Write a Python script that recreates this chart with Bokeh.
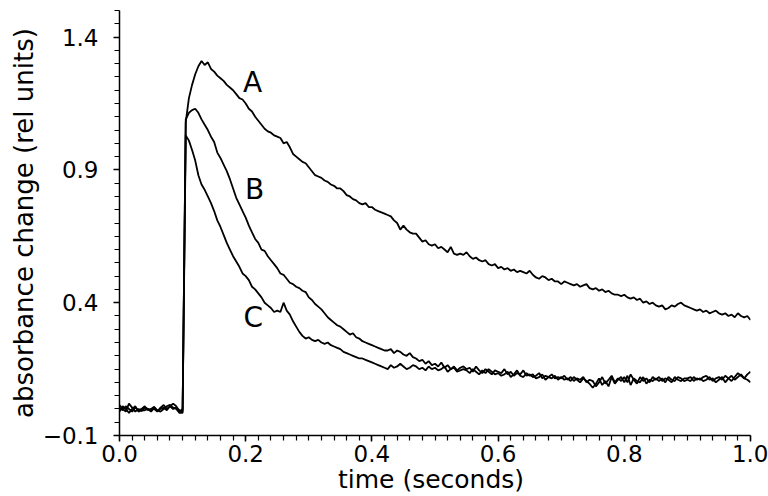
import numpy as np
from bokeh.plotting import figure
from bokeh.models import Range1d, FixedTicker, CustomJSTickFormatter, ColumnDataSource
from bokeh.core.properties import value
from bokeh.embed import file_html
from bokeh.resources import INLINE

# time grid (seconds), one sample every 5 ms
time_s = np.round(np.arange(0, 201) * 0.005, 3)

# absorbance change (rel units), rows of 10 samples = 50 ms each
trace_A = [
    0.005, -0.005, 0.01, 0.0, -0.01, 0.005, -0.005, 0.0, 0.01, -0.005,
    0.0, 0.008, -0.008, 0.0, 0.005, -0.005, 0.01, 0.0, 0.005, -0.005,
    -0.01, 1.08, 1.17, 1.22, 1.26, 1.29, 1.31, 1.295, 1.305, 1.28,
    1.27, 1.255, 1.245, 1.235, 1.22, 1.21, 1.2, 1.185, 1.17, 1.165,
    1.15, 1.13, 1.12, 1.10, 1.085, 1.07, 1.055, 1.045, 1.04, 1.03,
    1.025, 1.02, 1.00, 1.005, 0.985, 0.96, 0.95, 0.94, 0.93, 0.925,
    0.91, 0.895, 0.88, 0.875, 0.87, 0.86, 0.855, 0.845, 0.84, 0.83,
    0.83, 0.82, 0.805, 0.80, 0.79, 0.785, 0.775, 0.77, 0.775, 0.76,
    0.76, 0.75, 0.745, 0.74, 0.735, 0.73, 0.725, 0.71, 0.70, 0.675,
    0.69, 0.675, 0.665, 0.66, 0.66, 0.645, 0.63, 0.635, 0.62, 0.615,
    0.62, 0.605, 0.61, 0.60, 0.59, 0.61, 0.585, 0.58, 0.585, 0.58,
    0.59, 0.575, 0.565, 0.57, 0.56, 0.555, 0.56, 0.545, 0.54, 0.545,
    0.53, 0.535, 0.525, 0.53, 0.52, 0.525, 0.515, 0.52, 0.515, 0.51,
    0.52, 0.505, 0.495, 0.49, 0.50, 0.495, 0.485, 0.49, 0.48, 0.48,
    0.47, 0.48, 0.475, 0.47, 0.465, 0.47, 0.46, 0.465, 0.47, 0.455,
    0.45, 0.455, 0.445, 0.45, 0.44, 0.445, 0.435, 0.43, 0.43, 0.425,
    0.43, 0.42, 0.415, 0.42, 0.41, 0.415, 0.40, 0.405, 0.395, 0.40,
    0.39, 0.385, 0.39, 0.375, 0.38, 0.39, 0.385, 0.395, 0.40, 0.39,
    0.385, 0.38, 0.375, 0.37, 0.375, 0.365, 0.37, 0.36, 0.365, 0.37,
    0.36, 0.355, 0.36, 0.35, 0.355, 0.345, 0.36, 0.35, 0.345, 0.35,
    0.335,
]
trace_B = [
    0.015, 0.0, -0.01, 0.02, 0.005, -0.01, 0.0, -0.008, 0.005, 0.0,
    -0.005, 0.0, -0.01, 0.005, 0.015, 0.0, 0.01, 0.02, 0.01, -0.01,
    0.0, 1.09, 1.115, 1.125, 1.13, 1.115, 1.09, 1.07, 1.05, 1.025,
    1.005, 0.965, 0.945, 0.92, 0.895, 0.865, 0.83, 0.795, 0.77, 0.745,
    0.72, 0.69, 0.665, 0.64, 0.625, 0.60, 0.595, 0.575, 0.56, 0.545,
    0.53, 0.51, 0.505, 0.49, 0.475, 0.47, 0.46, 0.455, 0.445, 0.44,
    0.42, 0.41, 0.395, 0.385, 0.375, 0.36, 0.345, 0.335, 0.325, 0.315,
    0.31, 0.30, 0.29, 0.28, 0.285, 0.27, 0.265, 0.255, 0.25, 0.245,
    0.24, 0.235, 0.23, 0.225, 0.22, 0.22, 0.225, 0.21, 0.22, 0.215,
    0.205, 0.20, 0.21, 0.195, 0.19, 0.18, 0.185, 0.17, 0.18, 0.165,
    0.17, 0.16, 0.175, 0.155, 0.165, 0.15, 0.16, 0.145, 0.155, 0.16,
    0.15, 0.155, 0.14, 0.16, 0.145, 0.135, 0.15, 0.14, 0.13, 0.145,
    0.14, 0.135, 0.15, 0.13, 0.14, 0.125, 0.135, 0.13, 0.145, 0.125,
    0.13, 0.12, 0.125, 0.135, 0.115, 0.125, 0.12, 0.13, 0.115, 0.12,
    0.115, 0.125, 0.11, 0.12, 0.105, 0.115, 0.11, 0.12, 0.10, 0.11,
    0.105, 0.085, 0.10, 0.12, 0.095, 0.11, 0.125, 0.10, 0.115, 0.105,
    0.12, 0.10, 0.13, 0.11, 0.095, 0.12, 0.105, 0.115, 0.10, 0.12,
    0.11, 0.12, 0.105, 0.115, 0.11, 0.10, 0.12, 0.11, 0.105, 0.115,
    0.115, 0.12, 0.105, 0.115, 0.11, 0.12, 0.125, 0.11, 0.115, 0.10,
    0.11, 0.12, 0.10, 0.115, 0.125, 0.11, 0.12, 0.13, 0.115, 0.11,
    0.10,
]
trace_C = [
    -0.01, 0.01, 0.0, -0.015, 0.0, 0.01, -0.01, -0.005, -0.005, 0.0,
    -0.01, 0.005, -0.005, -0.01, 0.0, 0.01, 0.015, 0.005, 0.0, -0.015,
    -0.015, 1.03, 1.01, 0.975, 0.935, 0.88, 0.845, 0.825, 0.80, 0.775,
    0.745, 0.71, 0.685, 0.655, 0.625, 0.60, 0.575, 0.555, 0.535, 0.51,
    0.50, 0.485, 0.46, 0.45, 0.435, 0.42, 0.40, 0.39, 0.38, 0.365,
    0.37, 0.365, 0.40, 0.37, 0.355, 0.33, 0.31, 0.29, 0.275, 0.265,
    0.27, 0.26, 0.255, 0.26, 0.25, 0.245, 0.25, 0.24, 0.235, 0.23,
    0.225, 0.215, 0.21, 0.205, 0.20, 0.195, 0.19, 0.19, 0.185, 0.18,
    0.175, 0.17, 0.165, 0.16, 0.155, 0.15, 0.165, 0.155, 0.16, 0.17,
    0.16, 0.15, 0.155, 0.165, 0.16, 0.15, 0.155, 0.145, 0.16, 0.15,
    0.155, 0.145, 0.15, 0.16, 0.14, 0.15, 0.155, 0.14, 0.145, 0.15,
    0.145, 0.135, 0.15, 0.14, 0.13, 0.145, 0.135, 0.15, 0.14, 0.13,
    0.135, 0.125, 0.13, 0.14, 0.12, 0.13, 0.145, 0.125, 0.12, 0.135,
    0.125, 0.13, 0.115, 0.12, 0.13, 0.11, 0.12, 0.115, 0.125, 0.11,
    0.12, 0.11, 0.115, 0.105, 0.12, 0.11, 0.10, 0.115, 0.105, 0.095,
    0.08, 0.095, 0.115, 0.09, 0.105, 0.085, 0.12, 0.095, 0.11, 0.12,
    0.10, 0.125, 0.09, 0.115, 0.105, 0.10, 0.12, 0.095, 0.11, 0.105,
    0.115, 0.105, 0.115, 0.10, 0.12, 0.11, 0.105, 0.12, 0.115, 0.105,
    0.11, 0.105, 0.12, 0.11, 0.115, 0.105, 0.11, 0.12, 0.105, 0.115,
    0.12, 0.11, 0.125, 0.115, 0.105, 0.12, 0.135, 0.125, 0.115, 0.13,
    0.14,
]

# curve letters and where they sit
label_text = ["A", "B", "C"]
label_x = [0.211, 0.214, 0.212]
label_y = [1.23, 0.825, 0.344]

x_major = [0.0, 0.2, 0.4, 0.6, 0.8, 1.0]
y_major = [-0.1, 0.4, 0.9, 1.4]

FONT = "DejaVu Sans"

p = figure(width=768, height=496, output_backend="svg", toolbar_location=None,
           x_range=Range1d(0.0, 1.0), y_range=Range1d(-0.1, 1.5),
           min_border_left=119, min_border_right=18, min_border_top=10,
           min_border_bottom=61)
p.outline_line_color = None
p.grid.visible = False
p.background_fill_color = "white"
p.border_fill_color = "white"

for tr in (trace_A, trace_B, trace_C):
    p.line(time_s, tr, line_color="black", line_width=1.8)

src = ColumnDataSource(dict(x=label_x, y=label_y, t=label_text))
p.text(x="x", y="y", text="t", source=src, text_font=value(FONT),
       text_font_size="28px", text_align="center", text_baseline="middle",
       text_color="black")

x_minor = [round(i * 0.02, 2) for i in range(51)]
y_minor = [round(-0.1 + i * 0.05, 2) for i in range(33)]
p.xaxis.ticker = FixedTicker(ticks=x_major, minor_ticks=x_minor)
p.yaxis.ticker = FixedTicker(ticks=y_major, minor_ticks=y_minor)
fmt = CustomJSTickFormatter(code="return tick < 0 ? '\u2212' + Math.abs(tick).toFixed(1) : tick.toFixed(1);")
p.xaxis.formatter = fmt
p.yaxis.formatter = fmt

for ax in (p.xaxis[0], p.yaxis[0]):
    ax.axis_line_color = "black"
    ax.axis_line_width = 1.5
    ax.major_tick_line_color = "black"
    ax.minor_tick_line_color = "black"
    ax.major_tick_line_width = 1.5
    ax.minor_tick_line_width = 1.2
    ax.major_tick_in = 0
    ax.minor_tick_in = 0
    ax.major_tick_out = 6
    ax.minor_tick_out = 5
    ax.major_label_text_font = FONT
    ax.major_label_text_font_size = "23px"
    ax.major_label_text_color = "black"
    ax.axis_label_text_font = FONT
    ax.axis_label_text_font_style = "normal"
    ax.axis_label_text_color = "black"

p.xaxis.axis_label = "time  (seconds)"
p.yaxis.axis_label = "absorbance change (rel units)"
p.xaxis.axis_label_text_font_size = "25px"
p.yaxis.axis_label_text_font_size = "26px"
p.xaxis.major_label_standoff = 3
p.xaxis.axis_label_standoff = 0
p.yaxis.major_label_standoff = 15
p.yaxis.axis_label_standoff = 1

open("out.html", "w").write(file_html(p, INLINE))
